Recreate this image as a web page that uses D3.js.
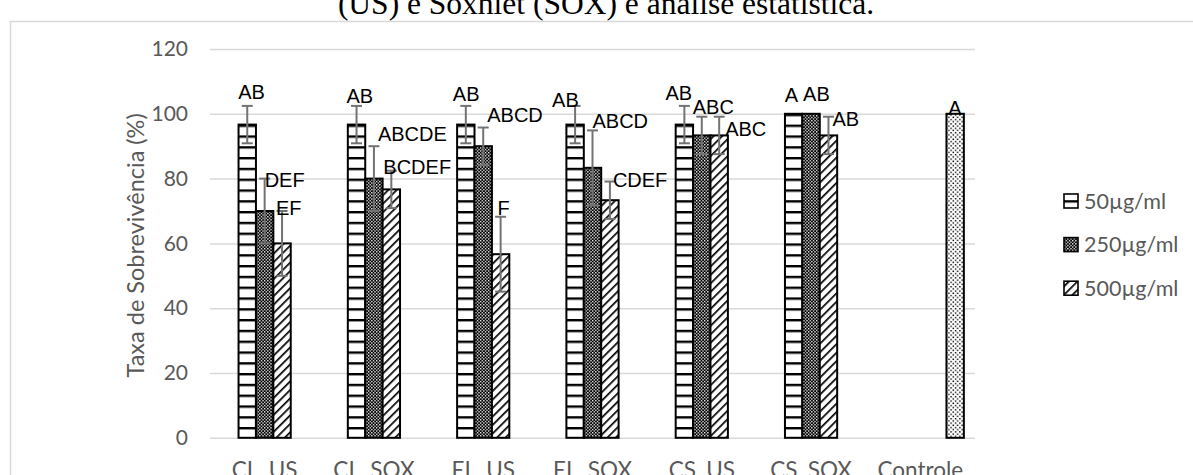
<!DOCTYPE html>
<html>
<head>
<meta charset="utf-8">
<script src="https://cdn.jsdelivr.net/npm/d3@7"></script>
<style>
  html, body { margin: 0; padding: 0; background: #fff; }
  svg { display: block; }
</style>
</head>
<body>
<svg id="chart" width="1193" height="475"></svg>
<script>
// Survival rate per extract and concentration, with standard deviations and
// statistical grouping letters.
const categories = ["CL_US", "CL_SOX", "EL_US", "EL_SOX", "CS_US", "CS_SOX", "Controle"];
const seriesNames = ["50µg/ml", "250µg/ml", "500µg/ml"];

const values50  = [96.67, 96.67, 96.67, 96.67, 96.67, 100, null];
const values250 = [70, 80, 90, 83.33, 93.33, 100, null];
const values500 = [60, 76.67, 56.67, 73.33, 93.33, 93.33, null];
const valuesControl = [null, null, null, null, null, null, 100];

const err50  = [5.77, 5.77, 5.77, 5.77, 5.77, 0, null];
const err250 = [10, 10, 5.77, 11.55, 5.77, 0, null];
const err500 = [10, 5.77, 11.55, 5.77, 5.77, 5.77, null];
const errControl = [null, null, null, null, null, null, 0];

const letters50  = ["AB", "AB", "AB", "AB", "AB", "A", null];
const letters250 = ["DEF", "ABCDE", "ABCD", "ABCD", "ABC", "AB", null];
const letters500 = ["EF", "BCDEF", "F", "CDEF", "ABC", "AB", null];
const lettersControl = [null, null, null, null, null, null, "A"];

const yTicks = [0, 20, 40, 60, 80, 100, 120];

// ---- layout ----
const svg = d3.select("#chart");
const plot = { left: 210, right: 975, top: 49, bottom: 437.8 };

const x0 = d3.scaleBand().domain(categories).range([plot.left, plot.right]).padding(0);
// five slots per category: an unused leading slot, the three concentrations, the control
const slotKeys = ["_", "c50", "c250", "c500", "ctrl"];
const x1 = d3.scaleBand().domain(slotKeys).range([0, x0.bandwidth()])
  .paddingInner(0).paddingOuter(0.64);
const y = d3.scaleLinear().domain([0, 120]).range([plot.bottom, plot.top]);

const grey = "#595959";
const tickFont = "Lato, 'Open Sans', sans-serif";

// ---- patterns ----
const defs = svg.append("defs");

const pH = defs.append("pattern").attr("id", "pHoriz")
  .attr("patternUnits", "userSpaceOnUse").attr("width", 12).attr("height", 10.8)
  .attr("y", plot.bottom % 10.8);
pH.append("rect").attr("width", 12).attr("height", 10.8).attr("fill", "#fff");
pH.append("rect").attr("y", 0).attr("width", 12).attr("height", 2.4).attr("fill", "#000");

const pC = defs.append("pattern").attr("id", "pCheck")
  .attr("patternUnits", "userSpaceOnUse").attr("width", 3.2).attr("height", 3.2);
pC.append("rect").attr("width", 3.2).attr("height", 3.2).attr("fill", "#000");
pC.append("rect").attr("x", 0).attr("y", 0).attr("width", 1.3).attr("height", 1.3).attr("fill", "#fff");
pC.append("rect").attr("x", 1.6).attr("y", 1.6).attr("width", 1.3).attr("height", 1.3).attr("fill", "#fff");

const pD = defs.append("pattern").attr("id", "pDiag")
  .attr("patternUnits", "userSpaceOnUse").attr("width", 6).attr("height", 6)
  .attr("patternTransform", "rotate(45)");
pD.append("rect").attr("width", 6).attr("height", 6).attr("fill", "#fff");
pD.append("rect").attr("x", 0).attr("width", 1.7).attr("height", 6).attr("fill", "#000");

const pDot = defs.append("pattern").attr("id", "pDots")
  .attr("patternUnits", "userSpaceOnUse").attr("width", 4.4).attr("height", 4.4);
pDot.append("rect").attr("width", 4.4).attr("height", 4.4).attr("fill", "#fff");
pDot.append("rect").attr("x", 0).attr("y", 0).attr("width", 1.4).attr("height", 1.4).attr("fill", "#000");
pDot.append("rect").attr("x", 2.2).attr("y", 2.2).attr("width", 1.4).attr("height", 1.4).attr("fill", "#000");

// ---- caption line above the chart frame ----
svg.append("text")
  .attr("x", 606).attr("y", 14)
  .attr("text-anchor", "middle")
  .attr("font-family", "'Liberation Serif', 'Times New Roman', serif")
  .attr("font-size", 31.5)
  .attr("fill", "#000")
  .text("(US) e Soxhlet (SOX) e análise estatística.");

// chart frame
svg.append("rect")
  .attr("x", 10.5).attr("y", 21.5).attr("width", 1200).attr("height", 480)
  .attr("fill", "none").attr("stroke", "#d9d9d9").attr("stroke-width", 1.5);

// ---- gridlines and y axis ----
const yAxis = d3.axisLeft(y).tickValues(yTicks).tickSize(-(plot.right - plot.left)).tickPadding(22);
const gy = svg.append("g").attr("transform", `translate(${plot.left},0)`).call(yAxis);
gy.select(".domain").remove();
gy.selectAll(".tick line").attr("stroke", "#d9d9d9").attr("stroke-width", 1.5);
gy.selectAll(".tick text")
  .attr("font-family", tickFont).attr("font-size", 21).attr("fill", grey);

svg.append("text")
  .attr("transform", `translate(144,${(plot.top + plot.bottom) / 2 + 2}) rotate(-90)`)
  .attr("text-anchor", "middle")
  .attr("font-family", tickFont).attr("font-size", 23.5).attr("fill", grey)
  .text("Taxa de Sobrevivência (%)");

// ---- x axis labels ----
const xAxis = d3.axisBottom(x0).tickSize(0).tickPadding(0);
const gx = svg.append("g").attr("transform", `translate(0,${plot.bottom})`).call(xAxis);
gx.select(".domain").remove();
gx.selectAll(".tick text")
  .attr("dy", 0).attr("y", 40)
  .attr("font-family", tickFont).attr("font-size", 22.5).attr("fill", grey);

// ---- bars ----
const seriesDefs = [
  { slot: "c50",  vals: values50,  errs: err50,  letters: letters50,  fill: "url(#pHoriz)" },
  { slot: "c250", vals: values250, errs: err250, letters: letters250, fill: "url(#pCheck)" },
  { slot: "c500", vals: values500, errs: err500, letters: letters500, fill: "url(#pDiag)" },
  { slot: "ctrl", vals: valuesControl, errs: errControl, letters: lettersControl, fill: "url(#pDots)" }
];

const points = [];
seriesDefs.forEach((s, si) => {
  categories.forEach((c, ci) => {
    if (s.vals[ci] == null) return;
    points.push({ si, ci, cat: c, slot: s.slot, v: s.vals[ci], e: s.errs[ci], letter: s.letters[ci], fill: s.fill });
  });
});

const bx = d => x0(d.cat) + x1(d.slot);
const bcx = d => bx(d) + x1.bandwidth() / 2;

svg.append("g").selectAll("rect").data(points).join("rect")
  .attr("x", d => bx(d))
  .attr("y", d => y(d.v))
  .attr("width", x1.bandwidth())
  .attr("height", d => y(0) - y(d.v))
  .attr("fill", d => d.fill)
  .attr("stroke", "#000").attr("stroke-width", 2);

// ---- error bars ----
const errG = svg.append("g").attr("stroke", "#737373").attr("stroke-width", 2).attr("fill", "none");
points.filter(d => d.e > 0).forEach(d => {
  const cx = bcx(d), y1 = y(d.v + d.e), y2 = y(d.v - d.e), cap = 5.5;
  errG.append("line").attr("x1", cx).attr("x2", cx).attr("y1", y1).attr("y2", y2);
  errG.append("line").attr("x1", cx - cap).attr("x2", cx + cap).attr("y1", y1).attr("y2", y1);
  errG.append("line").attr("x1", cx - cap).attr("x2", cx + cap).attr("y1", y2).attr("y2", y2);
});

// ---- grouping letters, nudged around the top of each error bar ----
const labelNudge = {
  "0-0": [-9, -7],  "0-1": [-10, -3], "0-2": [-13, -5], "0-3": [-23, 1],  "0-4": [-19, -6], "0-5": [-9, -12],
  "1-0": [0, 8],    "1-1": [4, -5],   "1-2": [4, -6],   "1-3": [0, -2],   "1-4": [-9, -3],  "1-5": [-8, -13],
  "2-0": [-6, 4],   "2-1": [-8, 3],   "2-2": [-3, -2],  "2-3": [3, 5],    "2-4": [6, 19],   "2-5": [4, 9],
  "3-6": [-7, 1]
};
svg.append("g").selectAll("text").data(points.filter(d => d.letter)).join("text")
  .attr("x", d => bcx(d) + labelNudge[`${d.si}-${d.ci}`][0])
  .attr("y", d => y(d.v + d.e) + labelNudge[`${d.si}-${d.ci}`][1])
  .attr("font-family", "'Liberation Sans', Arial, sans-serif")
  .attr("font-size", 20).attr("fill", "#000")
  .text(d => d.letter);

// ---- legend ----
const legendFills = ["url(#pHoriz)", "url(#pCheck)", "url(#pDiag)"];
const legend = svg.append("g");
seriesNames.forEach((name, i) => {
  const cy = 201 + i * 43.6;
  legend.append("rect")
    .attr("x", 1064).attr("y", cy - 7).attr("width", 14).attr("height", 14)
    .attr("fill", legendFills[i]).attr("stroke", "#000").attr("stroke-width", 1.6);
  legend.append("text")
    .attr("x", 1084).attr("y", cy).attr("dy", "0.35em")
    .attr("font-family", tickFont).attr("font-size", 21.5).attr("fill", grey)
    .text(name);
});
</script>
</body>
</html>
